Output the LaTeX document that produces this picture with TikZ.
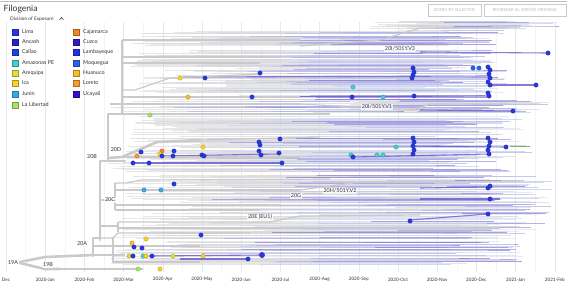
\documentclass[tikz,border=0pt]{standalone}
\usepackage{fontspec}
\setmainfont{Lato}
\definecolor{lc0}{HTML}{C4C2EC}
\definecolor{lc1}{HTML}{9488DC}
\definecolor{lc2}{HTML}{D8D8DC}
\definecolor{lc3}{HTML}{B4C8EA}
\definecolor{lc4}{HTML}{AEA6E4}
\definecolor{lc5}{HTML}{D0DAEC}
\definecolor{lc6}{HTML}{7E70D2}
\definecolor{lc7}{HTML}{E0E0F0}
\definecolor{tg}{HTML}{CACACA}
\definecolor{gridc}{HTML}{E8E8E8}
\definecolor{txt}{HTML}{333333}
\definecolor{cLima}{HTML}{2838E0}
\definecolor{cAncash}{HTML}{2A22C8}
\definecolor{cCallao}{HTML}{2240E6}
\definecolor{cAmaz}{HTML}{48D0C8}
\definecolor{cAreq}{HTML}{DDE238}
\definecolor{cIca}{HTML}{F6D22A}
\definecolor{cJunin}{HTML}{38A8EC}
\definecolor{cLib}{HTML}{ABE262}
\definecolor{cCaja}{HTML}{F2842A}
\definecolor{cCuzco}{HTML}{3418C4}
\definecolor{cLamb}{HTML}{2432E4}
\definecolor{cMoq}{HTML}{2C62E6}
\definecolor{cHuan}{HTML}{F8BC30}
\definecolor{cLor}{HTML}{F89A2C}
\definecolor{cUca}{HTML}{3410D0}
\definecolor{dkl}{HTML}{6050CC}
\tikzset{
  trunk/.style={draw=tg, line width=2.6pt, line join=round, line cap=round},
  branch/.style={draw=tg, line width=1.2pt, line join=round},
  axl/.style={font=\fontsize{4.6}{5}\selectfont, text=txt, inner sep=0pt},
  cladel/.style={font=\fontsize{5.4}{6}\selectfont, text=txt, inner sep=0.6pt, fill=white, fill opacity=0.75, text opacity=1},
  legsq/.style={minimum width=6.5pt, minimum height=6.5pt, inner sep=0pt, line width=0.5pt},
  legt/.style={font=\fontsize{5.4}{6}\selectfont, text=txt, anchor=west, inner sep=0pt},
  btn/.style={draw=gridc!70!gray, line width=0.5pt, minimum height=12pt, inner sep=1pt, font=\fontsize{4.2}{5}\selectfont, text=gray!55},
  darkline/.style={draw=dkl, line width=1.1pt, opacity=0.75}
}
\begin{document}
\begin{tikzpicture}[x=1pt,y=-1pt]
\useasboundingbox (0,0) rectangle (567,285);
\fill[white] (0,0) rectangle (567,285);
% top border
\draw[gridc!60!gray, line width=1.2pt] (0,1.5) -- (567,1.5);
% grid
\foreach \i in {0,...,14}{
  \draw[gridc, line width=0.5pt] ({6+39.2*\i},22) -- ({6+39.2*\i},272);
  \draw[gridc!50!white, line width=0.4pt] ({25.6+39.2*\i},22) -- ({25.6+39.2*\i},272);
}
% leaf lines
\pgfmathsetseed{1234}
\foreach \ya/\yb/\xa/\xb/\ea/\eb/\n in {
 21/30/370/430/470/560/26,
 30/46/130/230/420/505/30,
 50/66/130/210/420/500/30,
 66/100/130/260/420/515/60,
 100/113/300/420/480/558/26,
 100/113/110/200/300/430/12,
 116/137/125/210/420/525/36,
 138/160/125/210/430/535/40,
 160/172/105/210/420/520/20,
 175/215/125/260/430/545/60,
 180/215/320/430/500/560/26,
 216/232/120/290/460/548/30,
 232/264/110/190/440/525/52}{
  \foreach \i in {1,...,\n}{
    \pgfmathsetmacro{\yy}{\ya+rnd*(\yb-\ya)}
    \pgfmathsetmacro{\xx}{\xa+rnd*(\xb-\xa)}
    \pgfmathsetmacro{\ee}{\ea+rnd*(\eb-\ea)}
    \pgfmathsetmacro{\mm}{\xx+(0.2+0.4*rnd)*(\ee-\xx)}
    \pgfmathtruncatemacro{\cc}{rnd*7.99}
    \draw[line width=0.7pt, draw=lc2, opacity=0.6] (\xx,\yy) -- (\mm,\yy);
    \draw[line width=0.7pt, draw=lc\cc, opacity=0.65] (\mm,\yy) -- (\ee,\yy);
  }
}
% darker lines connecting sampled tips
\draw[darkline] (183,77) -- (490,76);
\draw[darkline] (188,97) -- (490,96);
\draw[darkline] (490,85) -- (536,85);
\draw[darkline] (420,110) -- (513,111);
\draw[darkline] (413,146) -- (506,147);
\draw[darkline] (353,157) -- (489,154);
\draw[darkline] (133,163) -- (282,163);
\draw[darkline] (160,156) -- (279,154);
\draw[darkline] (420,188) -- (490,187);
\draw[darkline] (420,199) -- (500,199);
\draw[darkline] (410,220) -- (488,214);
\draw[darkline] (149,256) -- (262,255);
\draw[darkline] (180,259) -- (248,259);
\draw[darkline] (420,52) -- (548,53);
\draw[draw=cLib!80!black, line width=0.6pt] (510,146) -- (530,146);
% tree skeleton
\draw[trunk] (20,262) -- (45,257) -- (93,255);
\draw[trunk] (93,256) -- (93,238) -- (100,238);
\draw[trunk] (100,240) -- (100,161) -- (125,161);
\draw[trunk] (20,263) -- (45,269) -- (60,269);
\draw[branch] (60,269) -- (143,269);
\draw[trunk] (108,161) -- (108,114) -- (128,114);
\draw[branch] (128,114) -- (330,114);
\draw[trunk] (108,158) -- (122,157) -- (157,142) -- (200,140);
\draw[branch] (200,140) -- (320,137);
\draw[branch] (122,157) -- (300,157);
\draw[branch] (100,200) -- (115,200);
\draw[branch] (115,183) -- (115,210);
\draw[branch] (115,183) -- (128,183) -- (140,180) -- (330,179);
\draw[branch] (115,190) -- (300,190);
\draw[branch] (115,205) -- (280,205);
\draw[branch] (115,210) -- (260,210);
\draw[branch] (100,226) -- (118,226);
\draw[branch] (118,222) -- (118,232);
\draw[branch] (118,228) -- (500,228);
\draw[branch] (118,222) -- (270,222) -- (300,216) -- (420,215);
\draw[branch] (100,238) -- (113,238) -- (118,233) -- (250,233);
\draw[branch] (93,246) -- (120,246) -- (200,246);
\draw[branch] (93,255) -- (125,255);
\draw[branch] (113,238) -- (113,262) -- (200,262);
\draw[branch] (122,114) -- (122,40);
\draw[branch] (122,40) -- (130,40) -- (300,40);
\draw[branch] (122,57) -- (280,57);
\draw[branch] (122,63) -- (260,63);
\draw[branch] (122,90) -- (135,90) -- (170,78) -- (260,74);
\draw[branch] (122,97) -- (300,97);
\draw[branch] (110,104) -- (300,104);
\draw[branch] (300,46) -- (380,40) -- (420,28) -- (520,27);
\draw[branch] (300,104) -- (413,110) -- (430,104) -- (540,104);
\draw[branch] (300,190) -- (330,186) -- (360,182) -- (520,181);
% dots
\foreach \x/\y/\c in {
 180/78/cIca, 205/78/cLima, 260/73/cLima, 188/97/cHuan, 252/97/cLima,
 548/53/cLima,
 413/68/cLima, 414/72/cLima, 413/75/cLima, 412/78/cLima,
 473/68/cMoq, 479/68/cMoq,
 488/67/cLima, 490/70/cLima, 489/74/cLima, 490/78/cLima, 488/82/cLima, 490/85/cLima,
 536/85/cLima,
 353/87/cAmaz, 352/97/cLima, 383/97/cAmaz, 414/96/cLima, 488/93/cLima, 489/96/cLima,
 513/111/cLima,
 413/138/cLima, 414/142/cLima, 413/146/cLima, 414/150/cLima, 413/154/cLima, 396/147/cAmaz,
 488/138/cLima, 490/142/cLima, 489/146/cLima, 488/150/cLima, 489/154/cLima, 506/147/cLima,
 351/155/cAmaz, 353/157/cLima, 377/155/cAmaz, 383/155/cAmaz,
 150/115/cLib, 141/152/cLima, 137/156/cLor, 162/151/cCaja, 160/154/cIca, 162/156/cLima,
 174/151/cLima, 173/156/cLima, 203/147/cIca, 202/155/cLima, 204/156/cLima,
 259/142/cLima, 260/145/cLima, 259/151/cLima, 261/155/cLima, 280/139/cLima, 279/153/cLima,
 133/163/cLima, 149/163/cLima, 282/163/cLima,
 174/184/cLima, 144/190/cJunin, 161/190/cJunin,
 488/188/cLima, 490/186/cLima, 490/199/cLima, 488/214/cLima, 410/221/cLima,
 201/235/cLima, 146/239/cIca, 132/243/cHuan, 134/247/cLima, 142/248/cLima,
 129/256/cIca, 133/256/cLima, 143/256/cAmaz, 146/256/cIca, 152/256/cLima,
 173/256/cAreq, 203/256/cIca, 248/259/cLima,
 138/269/cLib, 160/269/cIca}{
  \fill[\c, draw=\c!75!black, line width=0.3pt] (\x,\y) circle (2.2pt);
}
\fill[cLima, draw=cLima!75!black, line width=0.3pt] (262,255) circle (2.7pt);
% clade labels
\node[cladel] (l19A) at (13,263) {19A};
\node[cladel] (l19B) at (48,265) {19B};
\node[cladel] (l20A) at (82,244) {20A};
\node[cladel] (l20B) at (92,157) {20B};
\node[cladel] (l20D) at (116,150) {20D};
\node[cladel] (l20C) at (110,200) {20C};
\node[cladel] (l20G) at (296,196) {20G};
\node[cladel] (l20H) at (340,191) {20H/501Y.V2};
\node[cladel] (l20E) at (260,217) {20E (EU1)};
\node[cladel] (l20IV3) at (400,49) {20I/501Y.V3};
\node[cladel] (l20IV1) at (377,107) {20I/501Y.V1};
% axis
\foreach \i/\t in {0/Dec,1/2020-Jan,2/2020-Feb,3/2020-Mar,4/2020-Apr,5/2020-May,6/2020-Jun,7/2020-Jul,8/2020-Aug,9/2020-Sep,10/2020-Oct,11/2020-Nov,12/2020-Dec,13/2021-Jan,14/2021-Feb}{
  \node[axl] (m\i) at ({6+39.2*\i},279.5) {\t};
}
% header
\node[anchor=west, inner sep=0pt, font=\fontsize{8.6}{9}\selectfont, text=txt] (title) at (3.5,9) {Filogenia};
\node[anchor=west, inner sep=0pt, font=\fontsize{4.8}{5}\selectfont, text=txt] (divt) at (10,19) {Division of Exposure};
\draw[txt, line width=0.6pt] (59.5,19.8) -- (61.5,17.6) -- (63.5,19.8);
\node[btn, minimum width=53pt] (b1) at (454.5,10) {ZOOM TO SELECTED};
\node[btn, minimum width=82pt] (b2) at (525,10) {REGRESAR AL DISEÑO ORIGINAL};
% legend
\foreach \y/\c/\t [count=\k] in {32/cLima/Lima,42/cAncash/Ancash,52/cCallao/Callao,63/cAmaz/Amazonas PE,73/cAreq/Arequipa,83/cIca/Ica,94/cJunin/Junin,105/cLib/La Libertad}{
  \node[legsq, fill=\c, draw=\c!70!black] (sa\k) at (15,\y) {};
  \node[legt] (ta\k) at (22,\y) {\t};
}
\foreach \y/\c/\t [count=\k] in {32/cCaja/Cajamarca,42/cCuzco/Cuzco,52/cLamb/Lambayeque,63/cMoq/Moquegua,73/cHuan/Huanuco,83/cLor/Loreto,94/cUca/Ucayali}{
  \node[legsq, fill=\c, draw=\c!70!black] (sb\k) at (76,\y) {};
  \node[legt] (tb\k) at (83,\y) {\t};
}
\end{tikzpicture}
\end{document}
